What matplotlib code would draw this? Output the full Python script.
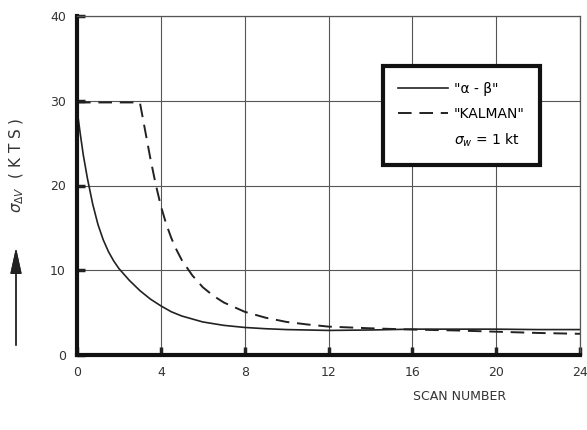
import matplotlib.pyplot as plt
from matplotlib.lines import Line2D

scan_ab = [0, 0.15, 0.3, 0.5, 0.75, 1, 1.25, 1.5, 1.75, 2, 2.5, 3, 3.5, 4, 4.5, 5, 6, 7, 8, 9, 10, 12, 14, 16, 18, 20, 22, 24]
sigma_ab = [29, 26.2, 23.6, 20.8, 17.8, 15.4, 13.6, 12.2, 11.1, 10.2, 8.8, 7.6, 6.6, 5.8, 5.1, 4.6, 3.9, 3.5, 3.25, 3.1, 3.0, 2.9, 2.95, 3.05, 3.05, 3.05, 3.0, 3.0]

scan_kal = [0, 3.0, 3.25, 3.5, 3.75, 4, 4.25, 4.5, 4.75, 5, 5.5, 6, 6.5, 7, 8, 9, 10, 11, 12, 14, 16, 18, 20, 22, 24]
sigma_kal = [29.8, 29.8, 26.5, 23.2, 20.2, 17.6, 15.5, 13.8, 12.4, 11.2, 9.4, 8.0, 7.0, 6.2, 5.1, 4.4, 3.9, 3.6, 3.35, 3.15, 3.0, 2.9, 2.75, 2.6, 2.5]

x_ticks = [0, 4, 8, 12, 16, 20, 24]
y_ticks = [0, 10, 20, 30, 40]

plt.rcParams['font.family'] = ['DejaVu Sans']

fig = plt.figure(figsize=(5.87, 4.30), dpi=100)
ax = fig.add_axes([77/587, 75/430, 503/587, 339/430])

ax.plot(scan_ab, sigma_ab, color='#222222', lw=1.2, label='"\u03b1 - \u03b2"')
ax.plot(scan_kal, sigma_kal, color='#222222', lw=1.4, dashes=(7, 4), label='"KALMAN"')

ax.set_xlim(0, 24)
ax.set_ylim(0, 40)
ax.set_xticks(x_ticks)
ax.set_yticks(y_ticks)
ax.grid(True, color='#555555', lw=0.8)
ax.tick_params(direction='in', length=6, width=2.5, colors='#222222',
               labelsize=9, labelcolor='#333333', pad=8)

for s in ['left', 'bottom']:
    ax.spines[s].set_linewidth(3)
    ax.spines[s].set_color('#111111')
for s in ['top', 'right']:
    ax.spines[s].set_linewidth(0.9)
    ax.spines[s].set_color('#555555')

handles, labels = ax.get_legend_handles_labels()
handles.append(Line2D([], [], color='none'))
labels.append(r'$\sigma_w$ = 1 kt')
leg = ax.legend(handles, labels, loc='upper right', bbox_to_anchor=(0.934, 0.872),
                fancybox=False, framealpha=1, edgecolor='#111111',
                handlelength=3.6, handletextpad=0.4, fontsize=10,
                borderpad=1.1, labelspacing=0.8)
leg.get_frame().set_linewidth(3)

fig.text(460/587, 1 - 397/430, 'SCAN NUMBER', ha='center', va='center',
         fontsize=9, color='#333333')
fig.text(17/587, 1 - 165/430, r'$\sigma_{\Delta V}$  ( K T S )', rotation=90,
         ha='center', va='center', fontsize=11, color='#333333')
fig.add_artist(plt.annotate('', xy=(16/587, 1 - 245/430), xytext=(16/587, 1 - 348/430),
                            xycoords='figure fraction', textcoords='figure fraction',
                            arrowprops=dict(arrowstyle='-|>,head_width=0.35,head_length=1.6',
                                            color='#222222', lw=1)))

fig.savefig('out.png', dpi=100)
